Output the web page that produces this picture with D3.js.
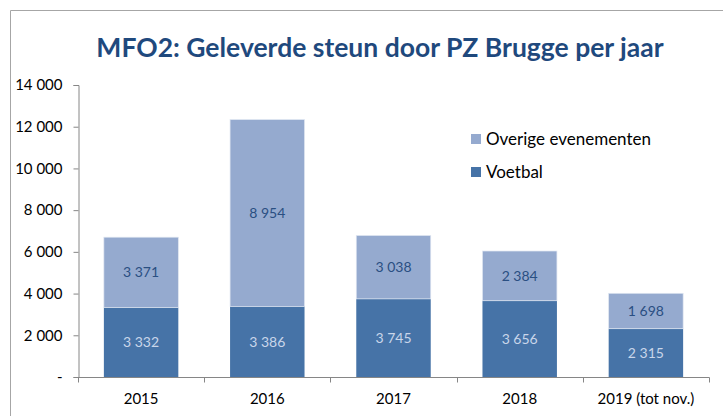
<!DOCTYPE html>
<html><head><meta charset="utf-8">
<script src="https://cdn.jsdelivr.net/npm/d3@7"></script>
<style>body{margin:0;background:#fff}svg{display:block}</style>
</head><body>
<script>
const categories = ["2015", "2016", "2017", "2018", "2019 (tot nov.)"];
const voetbal = [3332, 3386, 3745, 3656, 2315];
const overige = [3371, 8954, 3038, 2384, 1698];
const yTicks = [0, 2000, 4000, 6000, 8000, 10000, 12000, 14000];
const seriesNames = ["Overige evenementen", "Voetbal"];
const title = "MFO2: Geleverde steun door PZ Brugge per jaar";

const W = 723, H = 416;
const font = "Lato, 'Open Sans', sans-serif";
const cDark = "#4673A7", cLight = "#95AACF";
const svg = d3.select("body").append("svg").attr("width", W).attr("height", H);

// outer frame
svg.append("path").attr("d", `M10.5,${H} V10.5 H${W}`).attr("fill", "none").attr("stroke", "#a6a6a6").attr("stroke-width", 1);

svg.append("text").attr("x", 380).attr("y", 57).attr("text-anchor", "middle")
  .attr("font-family", font).attr("font-weight", "bold").attr("font-size", 26.5)
  .attr("fill", "#1F497D").text(title);

const x = d3.scaleBand().domain(categories).range([78, 709]).paddingInner(0.41).paddingOuter(0.205);
const y = d3.scaleLinear().domain([0, 14000]).range([377, 85]);

const fmt = v => v === 0 ? "-" : d3.format(",")(v).replace(/,/g, " ");

const gy = svg.append("g").attr("transform", "translate(78.5,0)")
  .call(d3.axisLeft(y).tickValues(yTicks).tickSize(5).tickPadding(11).tickFormat(fmt));
gy.select(".domain").attr("stroke", "#868686");
gy.selectAll(".tick line").attr("stroke", "#868686");
gy.selectAll("text").attr("font-family", font).attr("font-size", 15).attr("fill", "#000");

const data = categories.map((c, i) => ({c, v: voetbal[i], o: overige[i]}));
const g = svg.append("g");
g.selectAll(".v").data(data).join("rect")
  .attr("x", d => x(d.c)).attr("width", x.bandwidth())
  .attr("y", d => y(d.v)).attr("height", d => y(0) - y(d.v)).attr("fill", cDark);
g.selectAll(".o").data(data).join("rect")
  .attr("x", d => x(d.c)).attr("width", x.bandwidth())
  .attr("y", d => y(d.v + d.o)).attr("height", d => y(d.v) - y(d.v + d.o)).attr("fill", cLight)
  .attr("stroke", "#dfe6f1").attr("stroke-width", 0.7);

g.selectAll(".vl").data(data).join("text")
  .attr("x", d => x(d.c) + x.bandwidth() / 2).attr("y", d => (y(0) + y(d.v)) / 2 + 5)
  .attr("text-anchor", "middle").attr("font-family", font).attr("font-size", 14)
  .attr("fill", "#C9D6EA").text(d => fmt(d.v));
g.selectAll(".ol").data(data).join("text")
  .attr("x", d => x(d.c) + x.bandwidth() / 2).attr("y", d => (y(d.v) + y(d.v + d.o)) / 2 + 5)
  .attr("text-anchor", "middle").attr("font-family", font).attr("font-size", 14)
  .attr("fill", "#2A4F82").text(d => fmt(d.o));

// x axis with boundary ticks
const gx = svg.append("g").attr("transform", "translate(0,377.5)");
gx.append("line").attr("x1", 78).attr("x2", 709.5).attr("stroke", "#868686");
gx.selectAll(".bt").data(d3.range(categories.length + 1)).join("line")
  .attr("x1", i => Math.round(x(categories[0]) - x.step() * x.paddingInner() / 2 + i * x.step()) + 0.5)
  .attr("x2", i => Math.round(x(categories[0]) - x.step() * x.paddingInner() / 2 + i * x.step()) + 0.5)
  .attr("y1", 0).attr("y2", 5).attr("stroke", "#868686");
gx.selectAll(".xl").data(categories).join("text")
  .attr("x", d => x(d) + x.bandwidth() / 2).attr("y", 26).attr("text-anchor", "middle")
  .attr("font-family", font).attr("font-size", 15).attr("fill", "#000").text(d => d);

// legend
const leg = svg.append("g");
const legItems = [{n: seriesNames[0], c: cLight, y: 139}, {n: seriesNames[1], c: cDark, y: 172}];
leg.selectAll("rect").data(legItems).join("rect")
  .attr("x", 471).attr("y", d => d.y - 5).attr("width", 10).attr("height", 10).attr("fill", d => d.c);
leg.selectAll("text").data(legItems).join("text")
  .attr("x", 486).attr("y", d => d.y + 6).attr("font-family", font).attr("font-size", 17)
  .attr("fill", "#000").text(d => d.n);
</script>
</body></html>
